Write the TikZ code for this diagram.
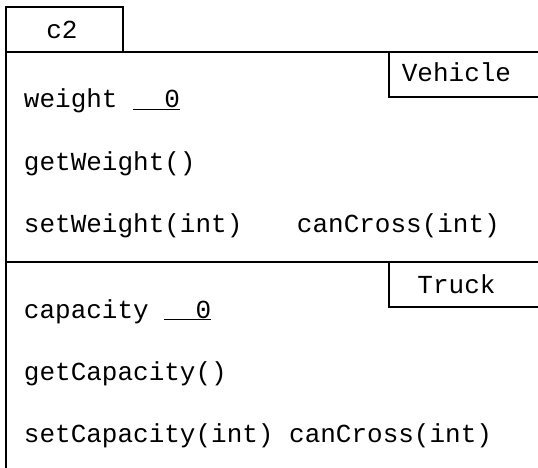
\documentclass[tikz,border=0pt]{standalone}
\usepackage{fontspec}
\setmonofont{Liberation Mono}
\begin{document}
\begin{tikzpicture}[x=1pt,y=-1pt,line width=1.9pt,
  txt/.style={font=\ttfamily\fontsize{26}{30}\selectfont,inner sep=0pt,anchor=base west},
  ctxt/.style={font=\ttfamily\fontsize{26}{30}\selectfont,inner sep=0pt,anchor=base},
  uline/.style={line width=1.3pt}]
\useasboundingbox (0,0) rectangle (538,468);
% frame
\draw (6,468) -- (6,7) -- (123,7) -- (123,52);
\draw (6,52) -- (538,52);
\draw (389,52) -- (389,97) -- (538,97);
\draw (6,262) -- (538,262);
\draw (389,262) -- (389,307) -- (538,307);
% tabs
\node[ctxt] (c2) at (62,38.5) {c2};
\node[ctxt] (veh) at (456.5,82) {Vehicle};
\node[ctxt] (truck) at (456.5,293) {Truck};
% Vehicle members
\node[txt] (w) at (23,108) {weight\ \ \ 0};
\draw[uline] (133,109.5) -- (180,109.5);
\node[txt] (gw) at (23,170) {getWeight()};
\node[txt] (sw) at (23,232) {setWeight(int)};
\node[txt] (cc1) at (296,232) {canCross(int)};
% Truck members
\node[txt] (cap) at (23,318) {capacity\ \ \ 0};
\draw[uline] (164,319.5) -- (211,319.5);
\node[txt] (gc) at (23,380) {getCapacity()};
\node[txt] (sc) at (23,442) {setCapacity(int) canCross(int)};
\end{tikzpicture}
\end{document}
